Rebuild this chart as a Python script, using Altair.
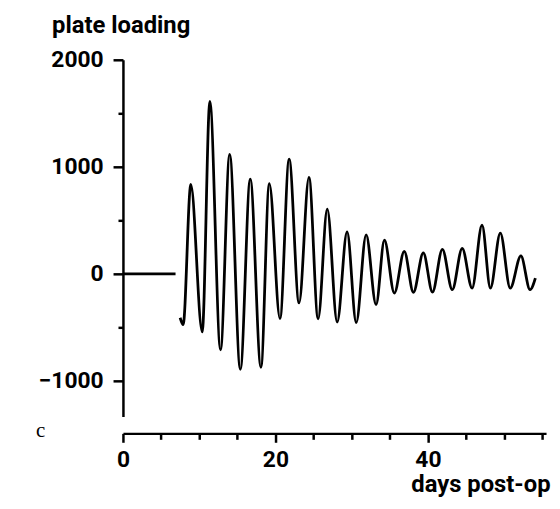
import altair as alt
import pandas as pd

# flat pre-op segment
flat_days = [0.0, 6.9]
flat_load = [0, 0]

# oscillating segment: turning points
osc_days = [7.5, 7.9, 8.9, 10.4, 11.4, 12.8, 14.0, 15.4, 16.7, 18.1, 19.2, 20.6,
            21.8, 23.1, 24.4, 25.6, 26.8, 28.1, 29.4, 30.6, 31.9, 33.2, 34.3, 35.6,
            36.9, 38.1, 39.4, 40.6, 41.9, 43.2, 44.5, 45.8, 47.1, 48.2, 49.5, 50.8,
            52.2, 53.4, 54.1]
osc_load = [-410, -475, 835, -543, 1611, -710, 1117, -893, 886, -873, 843, -418,
            1071, -272, 901, -420, 604, -450, 392, -455, 365, -287, 315, -179,
            211, -173, 197, -170, 229, -148, 238, -133, 456, -133, 380, -133,
            167, -148, -40]

y_ticks = [2000, 1500, 1000, 500, 0, -500, -1000]
x_ticks = [0, 5, 10, 15, 20, 25, 30, 35, 40, 45, 50, 55]

df = pd.DataFrame({
    "day": flat_days + osc_days,
    "load": flat_load + osc_load,
    "seg": ["flat"] * len(flat_days) + ["osc"] * len(osc_days),
})

FONT = "Roboto"

line = alt.Chart(df).mark_line(
    color="black", strokeWidth=2.8, interpolate="monotone"
).encode(
    x=alt.X(
        "day:Q",
        scale=alt.Scale(domain=[0, 55.5], nice=False, zero=False),
        axis=alt.Axis(
            values=x_ticks,
            format="d",
            labelExpr="datum.value % 20 === 0 ? datum.label : ''",
            tickSize={"condition": {"test": "datum.value % 20 !== 0", "value": 6}, "value": 9},
            offset=17,
            labelPadding=6,
            labelFont=FONT, labelFontSize=23, labelFontWeight="bold", labelColor="black",
            labelFlush=False,
            domainColor="black", domainWidth=2.5, tickColor="black", tickWidth=2.5,
            grid=False,
            title="days post-op",
            titleFont=FONT, titleFontSize=24, titleFontWeight="bold", titleColor="black",
            titleAlign="right", titleBaseline="alphabetic", titleX=431, titleY=59,
        ),
    ),
    y=alt.Y(
        "load:Q",
        scale=alt.Scale(domain=[-1333, 2000], nice=False, zero=False),
        axis=alt.Axis(
            values=y_ticks,
            format="d",
            labelExpr="datum.value % 1000 === 0 ? datum.label : ''",
            tickSize={"condition": {"test": "datum.value % 1000 !== 0", "value": 5}, "value": 10},
            labelPadding=10,
            labelFont=FONT, labelFontSize=23, labelFontWeight="bold", labelColor="black",
            labelFlush=False,
            domainColor="black", domainWidth=2.5, tickColor="black", tickWidth=2.5,
            grid=False,
            title="plate loading",
            titleFont=FONT, titleFontSize=24, titleFontWeight="bold", titleColor="black",
            titleAngle=0, titleAlign="left", titleBaseline="alphabetic",
            titleX=-72, titleY=-28,
        ),
    ),
    detail="seg:N",
)

panel = alt.Chart(pd.DataFrame({"t": ["c"]})).mark_text(
    font="Liberation Serif", fontSize=21, color="black", align="center", baseline="middle"
).encode(text="t:N", x=alt.value(-83), y=alt.value(375))

chart = alt.layer(line, panel).properties(
    width=427, height=360,
    autosize=alt.AutoSizeParams(type="none"),
    padding={"left": 116, "top": 50, "right": 6, "bottom": 86},
).configure_view(stroke=None)

chart.save("out.html", embed_options={"renderer": "svg", "actions": False})
